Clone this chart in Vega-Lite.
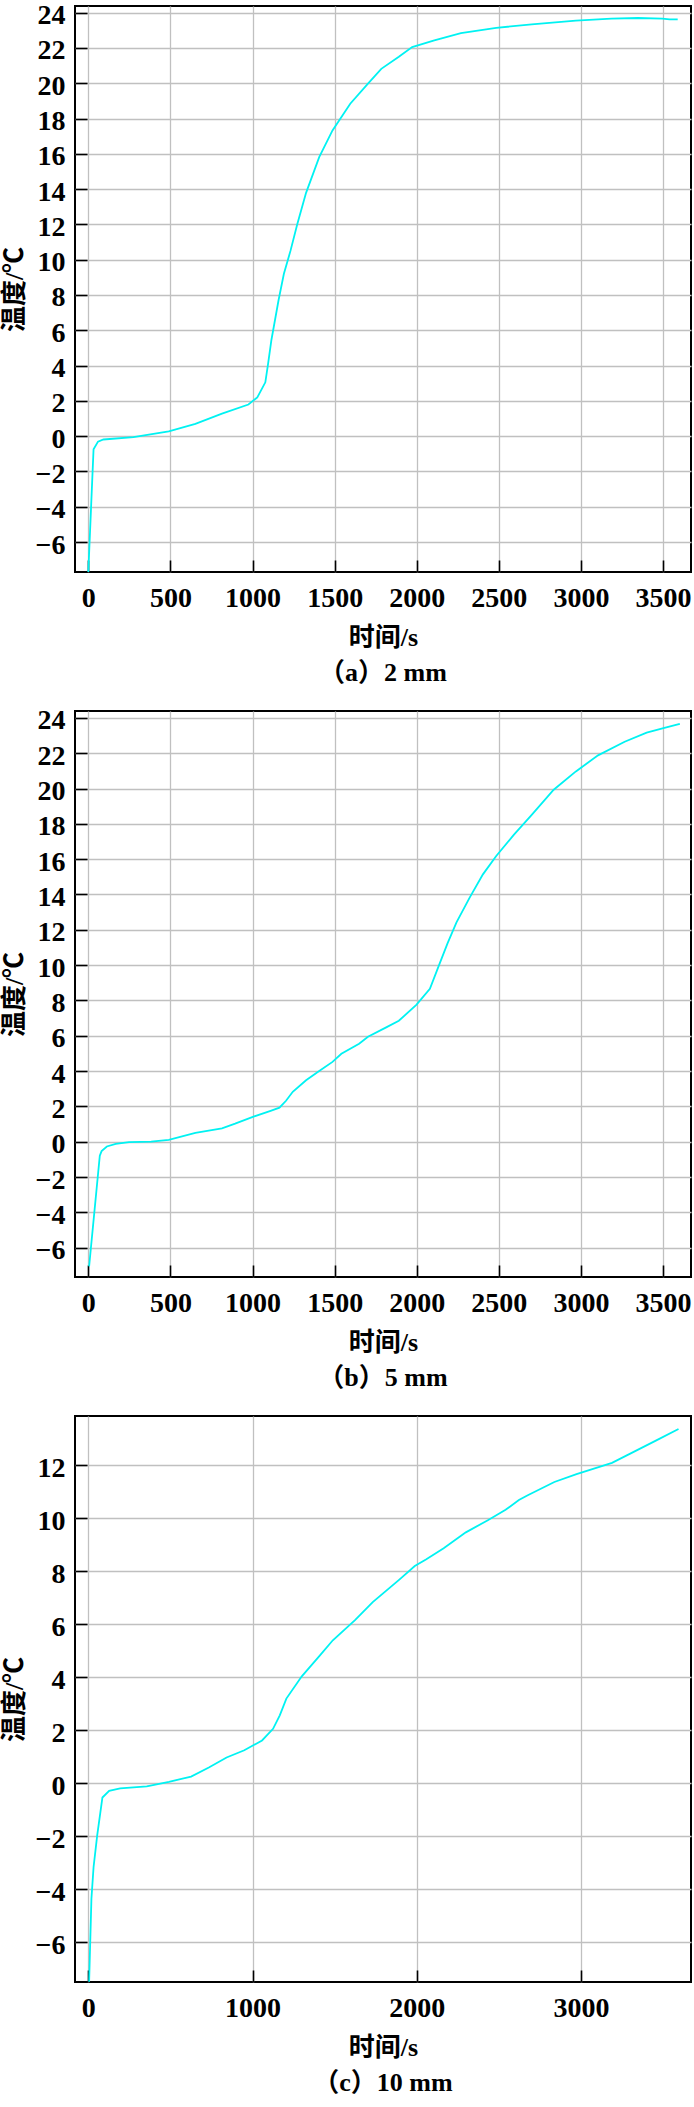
{
  "$schema": "https://vega.github.io/schema/vega-lite/v6.json",
  "padding": 0,
  "background": "white",
  "bounds": "flush",
  "spacing": 139,
  "config": {
    "font": "Times New Roman, Liberation Serif, serif",
    "view": {"stroke": "black", "strokeWidth": 2},
    "axis": {
      "domain": false,
      "grid": true,
      "gridColor": "#c0c0c0",
      "gridWidth": 1.3,
      "tickColor": "black",
      "tickSize": -12,
      "tickWidth": 1.6,
      "labelFont": "Times New Roman, Liberation Serif, serif",
      "labelFontSize": 28,
      "labelFontWeight": "bold",
      "labelColor": "black",
      "labelPadding": 22,
      "labelFlush": false,
      "labelOverlap": false,
      "format": "d",
      "titleFont": "Times New Roman, Liberation Serif, Noto Sans CJK SC, serif",
      "titleFontSize": 26,
      "titleFontWeight": "bold",
      "titleColor": "black"
    },
    "axisX": {"titlePadding": 12, "labelPadding": 24},
    "axisY": {"titlePadding": 8, "labelOffset": 3},
    "title": {
      "orient": "bottom",
      "frame": "group",
      "anchor": "middle",
      "font": "Times New Roman, Liberation Serif, Noto Sans CJK SC, serif",
      "fontSize": 26,
      "fontWeight": "bold",
      "color": "black",
      "offset": 10
    }
  },
  "datasets": {
    "a": [
      {"t": 0, "T": -7.7}, {"t": 32, "T": -0.74}, {"t": 59, "T": -0.31}, {"t": 92, "T": -0.19},
      {"t": 275, "T": -0.06}, {"t": 490, "T": 0.27}, {"t": 652, "T": 0.7}, {"t": 814, "T": 1.28},
      {"t": 975, "T": 1.79}, {"t": 1029, "T": 2.2}, {"t": 1078, "T": 3.05}, {"t": 1094, "T": 4.06},
      {"t": 1115, "T": 5.45}, {"t": 1159, "T": 7.73}, {"t": 1191, "T": 9.2}, {"t": 1231, "T": 10.5},
      {"t": 1272, "T": 12.0}, {"t": 1326, "T": 13.79}, {"t": 1406, "T": 15.81}, {"t": 1487, "T": 17.33},
      {"t": 1595, "T": 18.84}, {"t": 1703, "T": 19.98}, {"t": 1784, "T": 20.82}, {"t": 1891, "T": 21.5},
      {"t": 1972, "T": 22.05}, {"t": 2107, "T": 22.43}, {"t": 2269, "T": 22.84}, {"t": 2484, "T": 23.14},
      {"t": 2700, "T": 23.34}, {"t": 2969, "T": 23.55}, {"t": 3185, "T": 23.67}, {"t": 3347, "T": 23.7},
      {"t": 3495, "T": 23.67}, {"t": 3540, "T": 23.62}, {"t": 3589, "T": 23.62}
    ],
    "b": [
      {"t": 5, "T": -7.06}, {"t": 70, "T": -0.79}, {"t": 81, "T": -0.53}, {"t": 113, "T": -0.27},
      {"t": 167, "T": -0.12}, {"t": 248, "T": -0.02}, {"t": 383, "T": 0.0}, {"t": 490, "T": 0.11},
      {"t": 652, "T": 0.5}, {"t": 814, "T": 0.76}, {"t": 894, "T": 1.02}, {"t": 1002, "T": 1.41},
      {"t": 1110, "T": 1.75}, {"t": 1164, "T": 1.93}, {"t": 1204, "T": 2.32}, {"t": 1245, "T": 2.83},
      {"t": 1326, "T": 3.48}, {"t": 1406, "T": 4.0}, {"t": 1487, "T": 4.52}, {"t": 1541, "T": 4.98},
      {"t": 1649, "T": 5.55}, {"t": 1703, "T": 5.94}, {"t": 1811, "T": 6.46}, {"t": 1891, "T": 6.85},
      {"t": 1999, "T": 7.76}, {"t": 2080, "T": 8.66}, {"t": 2134, "T": 9.96}, {"t": 2188, "T": 11.25},
      {"t": 2242, "T": 12.42}, {"t": 2323, "T": 13.84}, {"t": 2403, "T": 15.14}, {"t": 2484, "T": 16.18},
      {"t": 2592, "T": 17.39}, {"t": 2700, "T": 18.51}, {"t": 2834, "T": 19.93}, {"t": 2969, "T": 20.97},
      {"t": 3104, "T": 21.88}, {"t": 3266, "T": 22.65}, {"t": 3400, "T": 23.17}, {"t": 3508, "T": 23.43},
      {"t": 3602, "T": 23.66}
    ],
    "c": [
      {"t": 5, "T": -7.49}, {"t": 19, "T": -4.36}, {"t": 32, "T": -3.17}, {"t": 54, "T": -1.98},
      {"t": 86, "T": -0.54}, {"t": 127, "T": -0.29}, {"t": 194, "T": -0.2}, {"t": 356, "T": -0.12},
      {"t": 491, "T": 0.05}, {"t": 626, "T": 0.25}, {"t": 734, "T": 0.59}, {"t": 842, "T": 0.97},
      {"t": 950, "T": 1.24}, {"t": 1058, "T": 1.61}, {"t": 1125, "T": 2.05}, {"t": 1166, "T": 2.56},
      {"t": 1206, "T": 3.19}, {"t": 1300, "T": 4.03}, {"t": 1408, "T": 4.8}, {"t": 1489, "T": 5.39},
      {"t": 1624, "T": 6.15}, {"t": 1732, "T": 6.83}, {"t": 1894, "T": 7.68}, {"t": 1988, "T": 8.19},
      {"t": 2056, "T": 8.44}, {"t": 2164, "T": 8.86}, {"t": 2299, "T": 9.46}, {"t": 2433, "T": 9.92},
      {"t": 2541, "T": 10.31}, {"t": 2622, "T": 10.68}, {"t": 2676, "T": 10.86}, {"t": 2838, "T": 11.36},
      {"t": 2973, "T": 11.66}, {"t": 3189, "T": 12.08}, {"t": 3297, "T": 12.42}, {"t": 3459, "T": 12.93},
      {"t": 3594, "T": 13.36}
    ]
  },
  "vconcat": [
    {
      "width": 616,
      "height": 566,
      "title": {"text": "（a）2 mm"},
      "data": {"name": "a"},
      "mark": {"type": "line", "color": "#00f2f2", "strokeWidth": 1.8, "clip": true},
      "encoding": {
        "x": {"field": "t", "type": "quantitative", "title": "时间/s",
              "scale": {"domain": [-81, 3670], "nice": false, "zero": false},
              "axis": {"values": [0, 500, 1000, 1500, 2000, 2500, 3000, 3500]}},
        "y": {"field": "T", "type": "quantitative", "title": "温度/℃",
              "scale": {"domain": [-7.7, 24.38], "nice": false, "zero": false},
              "axis": {"values": [-6, -4, -2, 0, 2, 4, 6, 8, 10, 12, 14, 16, 18, 20, 22, 24]}}
      }
    },
    {
      "width": 616,
      "height": 566,
      "title": {"text": "（b）5 mm"},
      "data": {"name": "b"},
      "mark": {"type": "line", "color": "#00f2f2", "strokeWidth": 1.8, "clip": true},
      "encoding": {
        "x": {"field": "t", "type": "quantitative", "title": "时间/s",
              "scale": {"domain": [-81, 3670], "nice": false, "zero": false},
              "axis": {"values": [0, 500, 1000, 1500, 2000, 2500, 3000, 3500]}},
        "y": {"field": "T", "type": "quantitative", "title": "温度/℃",
              "scale": {"domain": [-7.66, 24.39], "nice": false, "zero": false},
              "axis": {"values": [-6, -4, -2, 0, 2, 4, 6, 8, 10, 12, 14, 16, 18, 20, 22, 24]}}
      }
    },
    {
      "width": 616,
      "height": 566,
      "title": {"text": "（c）10 mm"},
      "data": {"name": "c"},
      "mark": {"type": "line", "color": "#00f2f2", "strokeWidth": 1.8, "clip": true},
      "encoding": {
        "x": {"field": "t", "type": "quantitative", "title": "时间/s",
              "scale": {"domain": [-81, 3670], "nice": false, "zero": false},
              "axis": {"values": [0, 1000, 2000, 3000]}},
        "y": {"field": "T", "type": "quantitative", "title": "温度/℃",
              "scale": {"domain": [-7.5, 13.85], "nice": false, "zero": false},
              "axis": {"values": [-6, -4, -2, 0, 2, 4, 6, 8, 10, 12]}}
      }
    }
  ]
}
